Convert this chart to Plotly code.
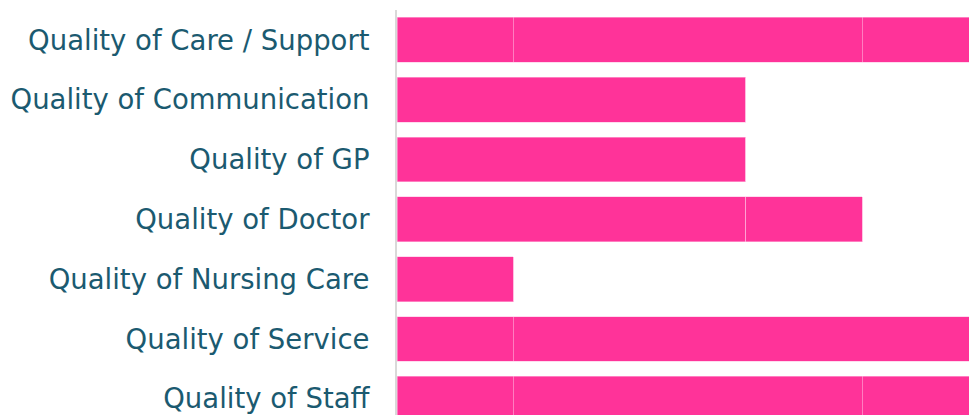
import plotly.graph_objects as go

categories = ["Quality of Care / Support", "Quality of Communication", "Quality of GP",
              "Quality of Doctor", "Quality of Nursing Care", "Quality of Service",
              "Quality of Staff"]
seg_a = [1, 3, 3, 3, 1, 1, 1]
seg_b = [3, 0, 0, 1, 0, 4, 3]
seg_c = [1, 0, 0, 0, 0, 0, 1]

PINK = "#FF3399"
fig = go.Figure()
for seg in (seg_a, seg_b, seg_c):
    fig.add_trace(go.Bar(
        y=categories, x=seg, orientation="h",
        marker=dict(color=PINK, line=dict(color="rgba(255,190,225,0.9)", width=0.6)),
        showlegend=False, hoverinfo="x+y",
    ))

fig.update_layout(
    barmode="stack", bargap=0.25,
    width=969, height=415,
    margin=dict(l=397, r=0, t=10, b=0),
    paper_bgcolor="white", plot_bgcolor="white",
    font=dict(family="DejaVu Sans", color="#1b5a70"),
)
fig.update_xaxes(range=[0, 4.92], showgrid=False, zeroline=False, showticklabels=False,
                 showline=False, fixedrange=True)
fig.update_yaxes(type="category", categoryorder="array", categoryarray=categories,
                 range=[6.27, -0.5], showgrid=False, zeroline=False,
                 showline=True, linecolor="#d9d9d9", linewidth=2,
                 tickfont=dict(size=27.5, color="#1b5a70", family="DejaVu Sans"),
                 ticks="", ticklabelstandoff=20)
fig.write_html("out.html", config={"displayModeBar": False},
               post_script="document.body.style.margin='0';document.documentElement.style.overflow='hidden';")
